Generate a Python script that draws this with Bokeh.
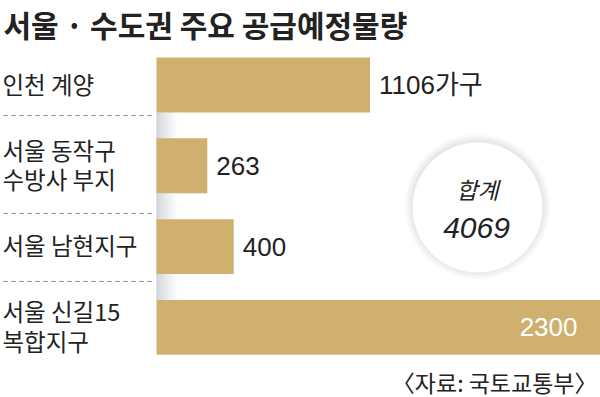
from bokeh.plotting import figure
from bokeh.models import Range1d
from bokeh.embed import file_html
from bokeh.resources import INLINE
from bokeh.core.properties import value

# ---- data ----
title = "서울 · 수도권 주요 공급예정물량"
categories = ["인천 계양", "서울 동작구\n수방사 부지", "서울 남현지구", "서울 신길15\n복합지구"]
values = [1106, 263, 400, 2300]
value_labels = ["1106가구", "263", "400", "2300"]
total_title = "합계"
total_value = "4069"
source_note = "〈자료: 국토교통부〉"

# ---- layout / style ----
W, H = 600, 397
BAR_COLOR = "#cfb06f"
TEXT = "#222222"
KR = "Noto Sans CJK KR"
NUM = "Liberation Sans, Noto Sans CJK KR"

bar_x0 = 156                     # pixel where value 0 sits
x_max = max(values)
scale = (W - bar_x0) / x_max
x_start = -bar_x0 / scale

row0 = 84.5                      # pixel centre of first row
pitch = 80.8
y_top = -row0 / pitch
y_bot = (H - row0) / pitch

p = figure(width=W, height=H, x_range=Range1d(x_start, x_max),
           y_range=Range1d(y_bot, y_top), output_backend="svg",
           toolbar_location=None, min_border=0,
           x_axis_location=None, y_axis_location=None)
p.extra_x_ranges = {"px": Range1d(0, W)}
p.extra_y_ranges = {"py": Range1d(H, 0)}
p.grid.visible = False
p.outline_line_color = None
p.background_fill_color = "white"
p.border_fill_color = "white"

# soft gray gradient strip at the bar base
n = 22
for i in range(n):
    t = (i / (n - 1)) ** 0.8
    c = tuple(int(a + (255 - a) * t) for a in (192, 197, 206))
    p.quad(left=[bar_x0 + i], right=[bar_x0 + i + 1], top=[112], bottom=[300],
           fill_color="#%02x%02x%02x" % c, line_color=None,
           x_range_name="px", y_range_name="py")

rows = list(range(len(values)))
p.hbar(y=rows, left=0, right=values, height=0.68, fill_color=BAR_COLOR, line_color=None)

# dashed separators
sep_y = [115, 213, 281]
p.segment(x0=[3] * 3, x1=[bar_x0 - 1] * 3, y0=sep_y, y1=sep_y, line_color="#8a8a8a",
          line_width=1, line_dash="4 4", x_range_name="px", y_range_name="py")

# category labels (split on newlines)
ly, lt = [], []
for i, c in enumerate(categories):
    lines = c.split("\n")
    k = len(lines)
    for j, ln in enumerate(lines):
        ly.append(i + ((j - (k - 1) / 2) * 29.5 - 1.5) / pitch)
        lt.append(ln)
p.text(x=[x_start] * len(ly), y=ly, text=lt, x_offset=2, text_font=value(KR),
       text_font_size="23.5px", text_color=TEXT, text_baseline="middle", text_align="left")

# value labels
p.text(x=values[:3], y=rows[:3], text=value_labels[:3], x_offset=9,
       text_font=value(NUM), text_font_size="26px", text_color=TEXT,
       text_baseline="middle", text_align="left")
p.text(x=values[3:], y=rows[3:], text=value_labels[3:], x_offset=-23,
       text_font=value(NUM), text_font_size="26px", text_color="white",
       text_baseline="middle", text_align="right")

# total circle with soft shadow
cx, cy, r = 477, 207, 65
for k in range(8, 0, -1):
    p.circle(x=[cx], y=[cy - 1], radius=r + k, fill_color="#000000", fill_alpha=0.011,
             line_color=None, x_range_name="px", y_range_name="py")
p.circle(x=[cx], y=[cy], radius=r, fill_color="white", line_color=None,
         x_range_name="px", y_range_name="py")
p.text(x=[cx], y=[cy - 19], text=[total_title], text_font=value(KR), text_font_size="23px",
       text_font_style="italic", text_color=TEXT, text_align="center", text_baseline="middle",
       x_range_name="px", y_range_name="py")
p.text(x=[cx - 1], y=[cy + 20], text=[total_value], text_font=value(NUM), text_font_size="30px",
       text_font_style="italic", text_color=TEXT, text_align="center", text_baseline="middle",
       x_range_name="px", y_range_name="py")

# title and source
p.text(x=[3], y=[23], text=[title], text_font=value(KR), text_font_size="30px",
       text_font_style="bold", text_color=TEXT, text_align="left", text_baseline="middle",
       x_range_name="px", y_range_name="py")
p.text(x=[597], y=[381], text=[source_note], text_font=value(KR), text_font_size="23px",
       text_color=TEXT, text_align="right", text_baseline="middle",
       x_range_name="px", y_range_name="py")

open("out.html", "w").write(file_html(p, INLINE))
